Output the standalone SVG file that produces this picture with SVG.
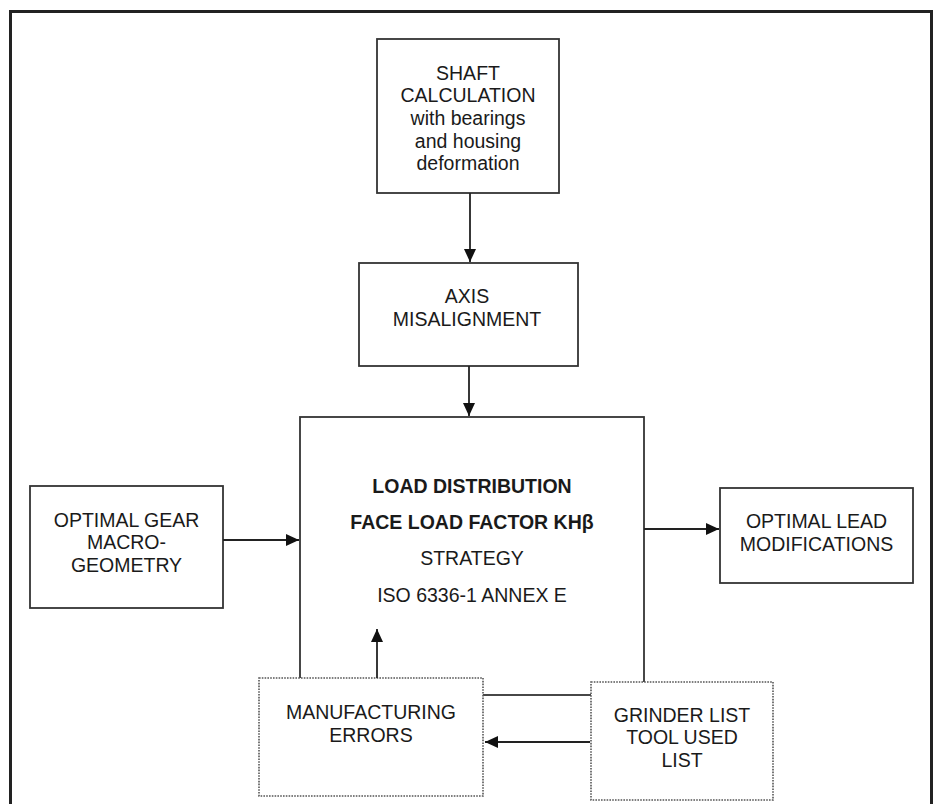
<svg xmlns="http://www.w3.org/2000/svg" width="935" height="804" viewBox="0 0 935 804">
<style>
.box{fill:#fff;stroke:#333;stroke-width:1.8}
.dot{fill:#fff;stroke:#555;stroke-width:1.6;stroke-dasharray:1.6 1.2}
.t{font-family:"Liberation Sans",Arial,sans-serif;font-size:19.5px;fill:#1a1a1a;text-anchor:middle}
.b{font-weight:bold}
.c{stroke:#222;stroke-width:1.8;fill:none}
</style>
<defs>
<marker id="ah" viewBox="0 0 13 12" refX="13" refY="6" markerWidth="13" markerHeight="12" markerUnits="userSpaceOnUse" orient="auto">
<path d="M0,0 L13,6 L0,12 Z" fill="#111"/>
</marker>
</defs>
<rect width="935" height="804" fill="#fff"/>
<path d="M10.5,806 V11.5 H931.5 V806" fill="none" stroke="#222" stroke-width="3"/>

<g id="main">
<rect class="box" x="300" y="417" width="344" height="278"/>
<text class="t b" x="472" y="493">LOAD DISTRIBUTION</text>
<text class="t b" x="472" y="529">FACE LOAD FACTOR KHβ</text>
<text class="t" x="472" y="565">STRATEGY</text>
<text class="t" x="472" y="602">ISO 6336-1 ANNEX E</text>
</g>

<g id="shaft">
<rect class="box" x="377" y="39" width="182" height="154"/>
<text class="t" x="468" y="80">SHAFT</text>
<text class="t" x="468" y="102">CALCULATION</text>
<text class="t" x="468" y="125">with bearings</text>
<text class="t" x="468" y="148">and housing</text>
<text class="t" x="468" y="170">deformation</text>
</g>

<g id="axis">
<rect class="box" x="359" y="263" width="219" height="103"/>
<text class="t" x="467" y="303">AXIS</text>
<text class="t" x="467" y="326">MISALIGNMENT</text>
</g>

<g id="gear">
<rect class="box" x="30" y="486" width="193" height="122"/>
<text class="t" x="126.5" y="527">OPTIMAL GEAR</text>
<text class="t" x="126.5" y="549">MACRO-</text>
<text class="t" x="126.5" y="572">GEOMETRY</text>
</g>

<g id="lead">
<rect class="box" x="720" y="488" width="193" height="95"/>
<text class="t" x="816.5" y="528">OPTIMAL LEAD</text>
<text class="t" x="816.5" y="551">MODIFICATIONS</text>
</g>

<g id="manufacturing">
<rect class="dot" x="259" y="678" width="224" height="118"/>
<text class="t" x="371" y="719">MANUFACTURING</text>
<text class="t" x="371" y="742">ERRORS</text>
</g>

<g id="grinder">
<rect class="dot" x="591" y="682" width="182" height="118"/>
<text class="t" x="682" y="722">GRINDER LIST</text>
<text class="t" x="682" y="744">TOOL USED</text>
<text class="t" x="682" y="767">LIST</text>
</g>

<g id="connectors">
<line class="c" x1="470" y1="193" x2="470" y2="262" marker-end="url(#ah)"/>
<line class="c" x1="469" y1="366" x2="469" y2="416" marker-end="url(#ah)"/>
<line class="c" x1="223" y1="540" x2="299" y2="540" marker-end="url(#ah)"/>
<line class="c" x1="644" y1="529" x2="719" y2="529" marker-end="url(#ah)"/>
<line class="c" x1="377" y1="678" x2="377" y2="629" marker-end="url(#ah)"/>
<line class="c" x1="590" y1="742" x2="485" y2="742" marker-end="url(#ah)"/>
</g>
</svg>
